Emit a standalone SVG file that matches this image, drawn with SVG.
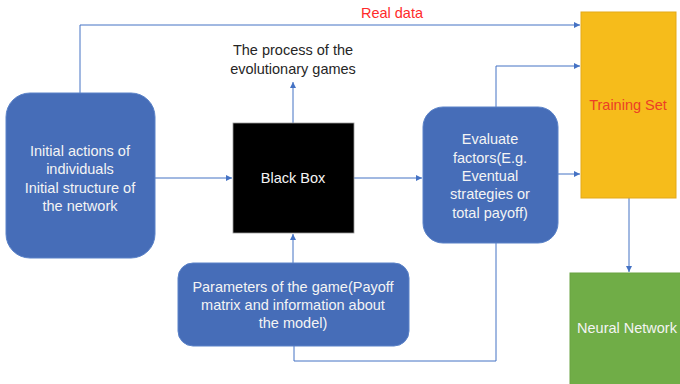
<svg xmlns="http://www.w3.org/2000/svg" width="680" height="384" viewBox="0 0 680 384">
  <defs>
    <marker id="arrow" viewBox="0 0 6 6" refX="6" refY="3" markerWidth="6" markerHeight="6" orient="auto" markerUnits="userSpaceOnUse">
      <path d="M0,0 L6,3 L0,6 Z" fill="#4472c4"/>
    </marker>
    <style>
      .blue { fill: #466db8; stroke: #5a82c8; stroke-width: 1; }
      .lbl { font-family: "Liberation Sans", Arial, sans-serif; font-size: 14.5px; fill: #f4f4f4; text-anchor: middle; }
      .dark { fill: #262626; }
      .red { fill: #ff2a2a; }
      .conn { fill: none; stroke: #4472c4; stroke-width: 1; }
    </style>
  </defs>

  <rect width="680" height="384" fill="#ffffff"/>

  <!-- connectors -->
  <g id="connectors">
    <polyline class="conn" points="80,93 80,25 580,25" marker-end="url(#arrow)"/>
    <line class="conn" x1="155" y1="178" x2="232" y2="178" marker-end="url(#arrow)"/>
    <line class="conn" x1="354" y1="178" x2="422" y2="178" marker-end="url(#arrow)"/>
    <line class="conn" x1="293" y1="123" x2="293" y2="82" marker-end="url(#arrow)"/>
    <line class="conn" x1="293" y1="263" x2="293" y2="234" marker-end="url(#arrow)"/>
    <polyline class="conn" points="496,107 496,66 580,66" marker-end="url(#arrow)"/>
    <line class="conn" x1="558" y1="174" x2="580" y2="174" marker-end="url(#arrow)"/>
    <polyline class="conn" points="496,243 496,361 294,361 294,346"/>
    <line class="conn" x1="629" y1="198" x2="629" y2="272" marker-end="url(#arrow)"/>
    <text class="lbl red" x="392" y="18">Real data</text>
    <text class="lbl dark" x="293" y="55">The process of the</text>
    <text class="lbl dark" x="293" y="74">evolutionary games</text>
  </g>

  <!-- initial conditions -->
  <g id="initial">
    <rect class="blue" x="6" y="93" width="149" height="165" rx="24"/>
    <text class="lbl" x="80" y="156">Initial actions of</text>
    <text class="lbl" x="80" y="174">individuals</text>
    <text class="lbl" x="80" y="193">Initial structure of</text>
    <text class="lbl" x="80" y="211">the network</text>
  </g>

  <!-- black box -->
  <g id="blackbox">
    <rect x="233" y="123" width="121" height="110" fill="#000000" stroke="#999999" stroke-width="0.8"/>
    <text class="lbl" x="293" y="183">Black Box</text>
  </g>

  <!-- evaluation -->
  <g id="evaluate">
    <rect class="blue" x="423" y="107" width="135" height="136" rx="20"/>
    <text class="lbl" x="490" y="144">Evaluate</text>
    <text class="lbl" x="490" y="163">factors(E.g.</text>
    <text class="lbl" x="490" y="181">Eventual</text>
    <text class="lbl" x="490" y="199">strategies or</text>
    <text class="lbl" x="490" y="218">total payoff)</text>
  </g>

  <!-- game parameters -->
  <g id="parameters">
    <rect class="blue" x="178" y="263" width="231" height="83" rx="15"/>
    <text class="lbl" x="293" y="292">Parameters of the game(Payoff</text>
    <text class="lbl" x="293" y="310">matrix and information about</text>
    <text class="lbl" x="293" y="328">the model)</text>
  </g>

  <!-- training set -->
  <g id="training">
    <rect x="581" y="12" width="95" height="186" fill="#f6bc1b" stroke="#e3a91a" stroke-width="1"/>
    <text class="lbl" x="628" y="110" style="fill:#ec3f26">Training Set</text>
  </g>

  <!-- neural network -->
  <g id="neural">
    <rect x="570" y="273" width="116" height="115" fill="#70ad47" stroke="#6aa443" stroke-width="1"/>
    <text class="lbl" x="627" y="333">Neural Network</text>
  </g>
</svg>
